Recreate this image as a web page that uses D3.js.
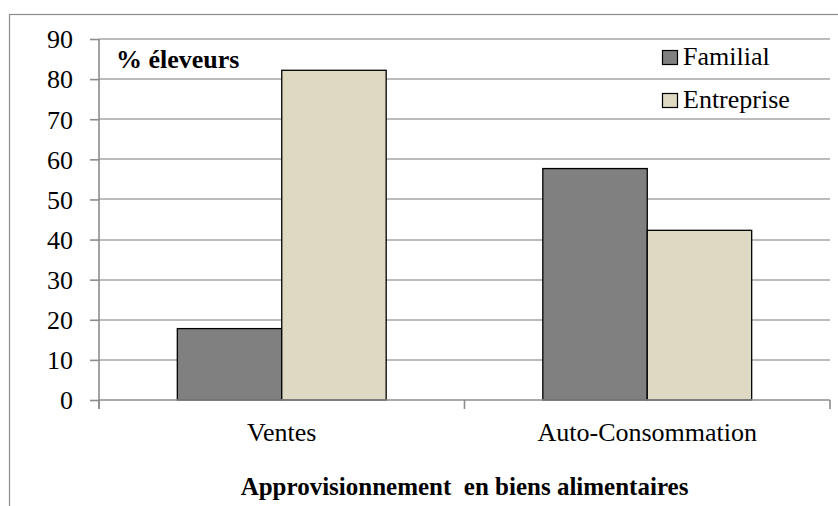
<!DOCTYPE html>
<html>
<head>
<meta charset="utf-8">
<script src="https://cdn.jsdelivr.net/npm/d3@7"></script>
</head>
<body style="margin:0">
<svg id="viz" width="838" height="506"></svg>
<script>
const categories = ["Ventes", "Auto-Consommation"];
const seriesNames = ["Familial", "Entreprise"];
const familialValues = [17.8, 57.7];
const entrepriseValues = [82.2, 42.3];
const yTicks = [0, 10, 20, 30, 40, 50, 60, 70, 80, 90];
const yLabel = "% éleveurs";
const xTitle = "Approvisionnement  en biens alimentaires";
const colors = ["#808080", "#DDD9C3"];

const FONT = "Liberation Serif";
const seriesValues = [familialValues, entrepriseValues];
const data = categories.map((c, i) => ({
  category: c,
  values: seriesNames.map((s, j) => ({ series: s, value: seriesValues[j][i] }))
}));

const svg = d3.select("#viz");

svg.append("rect")
  .attr("x", 9.5).attr("y", 14.5)
  .attr("width", 840).attr("height", 520)
  .attr("fill", "none").attr("stroke", "#8c8c8c").attr("stroke-width", 1.2);

const plot = { left: 99, right: 830, top: 39, bottom: 400 };

const y = d3.scaleLinear().domain([0, 90]).range([plot.bottom, plot.top]);
const x = d3.scaleBand().domain(categories).range([plot.left, plot.right]).padding(0);
const bw = x.bandwidth();
const barW = bw / 3.5;
const xs = d3.scaleBand().domain(seriesNames)
  .range([0.75 * barW, bw - 0.75 * barW]).padding(0);

svg.append("g").selectAll("line").data(yTicks.filter(t => t > 0)).join("line")
  .attr("x1", plot.left).attr("x2", plot.right)
  .attr("y1", d => Math.round(y(d))).attr("y2", d => Math.round(y(d)))
  .attr("stroke", "#a6a6a6").attr("stroke-width", 1.6);

const yAxis = d3.axisLeft(y).tickValues(yTicks).tickSize(9).tickPadding(17)
  .tickFormat(d3.format("d"));
const gy = svg.append("g").attr("transform", `translate(${plot.left},0)`).call(yAxis);
gy.select(".domain").remove();
gy.selectAll(".tick line").attr("stroke", "#8c8c8c").attr("stroke-width", 1.6);
gy.selectAll(".tick text").style("font-family", FONT).attr("font-size", 26)
  .attr("fill", "#000").attr("dy", "0.34em");
svg.append("line")
  .attr("x1", plot.left).attr("x2", plot.left)
  .attr("y1", plot.top).attr("y2", plot.bottom + 9)
  .attr("stroke", "#8c8c8c").attr("stroke-width", 1.6);

const groups = svg.append("g").selectAll("g").data(data).join("g")
  .attr("transform", d => `translate(${x(d.category)},0)`);
groups.selectAll("rect").data(d => d.values).join("rect")
  .attr("x", d => xs(d.series))
  .attr("y", d => y(d.value))
  .attr("width", xs.bandwidth())
  .attr("height", d => y(0) - y(d.value))
  .attr("fill", (d, i) => colors[i])
  .attr("stroke", "#000").attr("stroke-width", 1.3);

const xTickPositions = [plot.left, ...categories.map(c => x(c) + bw)];
svg.append("line")
  .attr("x1", plot.left).attr("x2", plot.right)
  .attr("y1", plot.bottom).attr("y2", plot.bottom)
  .attr("stroke", "#8c8c8c").attr("stroke-width", 1.6);
svg.append("g").selectAll("line").data(xTickPositions).join("line")
  .attr("x1", d => d).attr("x2", d => d)
  .attr("y1", plot.bottom).attr("y2", plot.bottom + 9)
  .attr("stroke", "#8c8c8c").attr("stroke-width", 1.6);
svg.append("g").selectAll("text").data(categories).join("text")
  .attr("x", d => x(d) + bw / 2).attr("y", 441)
  .attr("text-anchor", "middle")
  .style("font-family", FONT).attr("font-size", 26)
  .text(d => d);

svg.append("text")
  .attr("x", (plot.left + plot.right) / 2).attr("y", 495)
  .attr("text-anchor", "middle")
  .style("font-family", FONT).attr("font-size", 25).style("font-weight", "bold")
  .attr("xml:space", "preserve")
  .text(xTitle);

svg.append("text")
  .attr("x", 116).attr("y", 68)
  .style("font-family", FONT).attr("font-size", 26).style("font-weight", "bold")
  .text(yLabel);

const legend = svg.append("g").selectAll("g").data(seriesNames).join("g")
  .attr("transform", (d, i) => `translate(662,${50 + i * 43})`);
legend.append("rect")
  .attr("x", 0.5).attr("y", 0.5).attr("width", 15).attr("height", 14)
  .attr("fill", (d, i) => colors[i]).attr("stroke", "#000").attr("stroke-width", 1.2);
legend.append("text")
  .attr("x", 21).attr("y", 15)
  .style("font-family", FONT).attr("font-size", 26)
  .text(d => d);
</script>
</body>
</html>
